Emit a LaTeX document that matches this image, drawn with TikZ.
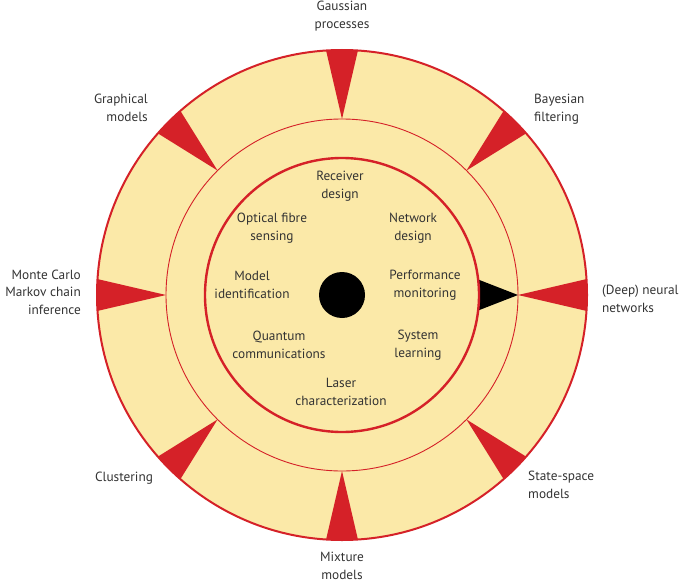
\documentclass[tikz,border=0pt]{standalone}
\usepackage{fontspec}
\setmainfont{PT Sans}
\definecolor{wheel}{RGB}{251,233,168}
\definecolor{ringred}{RGB}{213,33,40}
\definecolor{txt}{RGB}{51,51,51}
\tikzset{
  lbl/.style={font=\fontsize{13.3}{17.5}\selectfont, text=txt, inner sep=0pt, align=center},
  spike/.style={fill=ringred},
}
\begin{document}
\begin{tikzpicture}[x=1pt,y=-1pt]
\useasboundingbox (0,0) rectangle (685,583);
\begin{scope}[shift={(342,295)}]
  \fill[wheel] (0,0) circle[radius=245pt];
  \begin{scope}
    \clip (0,0) circle[radius=245pt];
    \foreach \a in {0,45,...,315}{
      \begin{scope}[rotate=\a]
        \fill[spike] (176,0) -- (262,20) -- (262,-20) -- cycle;
      \end{scope}
    }
  \end{scope}
  \fill[black] (176,0) -- (136.1,15.5) -- (137,0) -- (136.1,-15.5) -- cycle;
  \draw[ringred, line width=2pt] (0,0) circle[radius=245pt];
  \draw[ringred, line width=0.9pt] (0,0) circle[radius=176pt];
  \draw[ringred, line width=2.4pt] (0,0) circle[radius=137pt];
  \fill[black] (0,0) circle[radius=23pt];
\end{scope}
\node (dot) at (342,295) {};
% outer labels
\node[lbl] (gp) at (342,16) {Gaussian\\processes};
\node[lbl, anchor=west, align=left] (bf) at (534,109) {Bayesian\\filtering};
\node[lbl, anchor=west, align=left] (dnn) at (602,299) {(Deep) neural\\networks};
\node[lbl, anchor=west, align=left] (ssm) at (528,485) {State-space\\models};
\node[lbl] (mm) at (342,566) {Mixture\\models};
\node[lbl] (cl) at (124,478) {Clustering};
\node[lbl, anchor=east, align=right] (mcmc) at (81,292) {Monte Carlo\\Markov chain\\inference};
\node[lbl, anchor=east, align=right] (gm) at (148,108) {Graphical\\models};
% inner labels
\node[lbl] (rd) at (340,186) {Receiver\\design};
\node[lbl] (ofs) at (272,228) {Optical fibre\\sensing};
\node[lbl] (nd) at (413,228) {Network\\design};
\node[lbl] (mi) at (252,285) {Model\\identification};
\node[lbl] (pm) at (425,285) {Performance\\monitoring};
\node[lbl] (qc) at (279,345) {Quantum\\communications};
\node[lbl] (sl) at (418,345) {System\\learning};
\node[lbl] (lc) at (341,392) {Laser\\characterization};
\end{tikzpicture}
\end{document}
